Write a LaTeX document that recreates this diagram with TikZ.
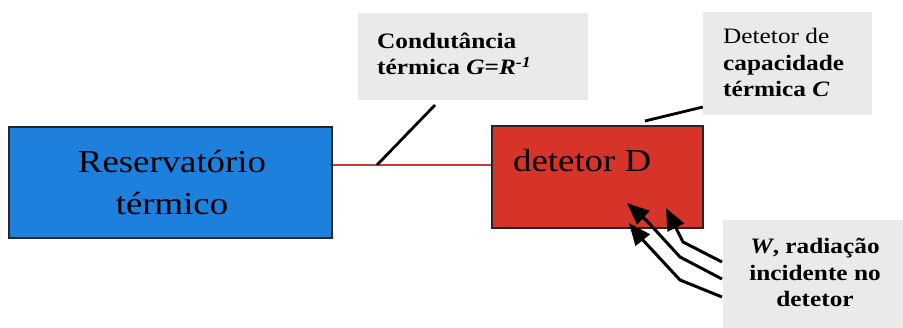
\documentclass[tikz,border=0pt]{standalone}
\usepackage{fontspec}
\setmainfont{Liberation Serif}
\newfontfamily\wideserif[FakeStretch=1.15]{Liberation Serif}
\usetikzlibrary{arrows.meta}
\definecolor{resblue}{RGB}{28,128,220}
\definecolor{detred}{RGB}{214,52,40}
\definecolor{linkred}{RGB}{205,60,60}
\definecolor{callgray}{RGB}{234,234,234}
\tikzset{
  mainbox/.style={draw=black!85, line width=1.8pt, inner sep=0pt},
  callout/.style={fill=callgray, inner sep=0pt},
  calltext/.style={font=\wideserif\fontsize{22}{26.5}\selectfont\bfseries, inner sep=0pt},
  leader/.style={draw=black, line width=2.8pt},
  radarrow/.style={draw=black, line width=3pt, -{Triangle[length=22pt,width=18pt]}},
}
\begin{document}
\begin{tikzpicture}[x=1pt,y=-1pt]
\useasboundingbox (0,0) rectangle (903,328);
% main boxes
\node[mainbox, fill=resblue, minimum width=323, minimum height=111] (res) at (170.5,182.5) {};
\node[font=\wideserif\fontsize{32}{42}\selectfont, align=center, anchor=base] (restext) at (172,215) {Reservatório\\térmico};
\node[mainbox, fill=detred, minimum width=211, minimum height=102] (det) at (597.5,177) {};
\node[font=\wideserif\fontsize{32}{38}\selectfont, anchor=base west, inner sep=0pt] (dettext) at (513,172) {detetor D};
% callout boxes
\node[callout, minimum width=230, minimum height=87] (cond) at (473,56.5) {};
\node[calltext, align=left, anchor=base west] (condtext) at (377,75) {Condutância\\térmica \textit{G}=\textit{R}\textsuperscript{\textit{-1}}};
\node[callout, minimum width=169, minimum height=103] (cap) at (787.5,63.5) {};
\node[calltext, align=left, anchor=base west] (captext) at (723,97) {\mdseries Detetor de\\capacidade\\térmica \textit{C}};
\node[callout, minimum width=180, minimum height=108] (wbox) at (813,274) {};
\node[calltext, align=center, anchor=base] (wtext) at (815,307) {\textit{W}, radiação\\incidente no\\detetor};
% thermal link
\coordinate (j) at (377,165);
\draw[linkred, line width=1.5pt] (res.east |- j) -- (det.west |- j);
\coordinate (condtip) at (435,105);
\draw[leader] (j) -- (condtip);
\coordinate (captip) at (645,121);
\draw[leader] (captip) -- (cap.west |- 0,107);
% radiation arrows
\coordinate (r1) at (722,262);
\coordinate (r2) at (722,279);
\coordinate (r3) at (722,297);
\draw[radarrow] (r1) -- (683,242) -- (666,208);
\draw[radarrow] (r2) -- (680,257) -- (647,221) -- (627,203);
\draw[radarrow] (r3) -- (680,280) -- (641,238) -- (629,223);
\end{tikzpicture}
\end{document}
